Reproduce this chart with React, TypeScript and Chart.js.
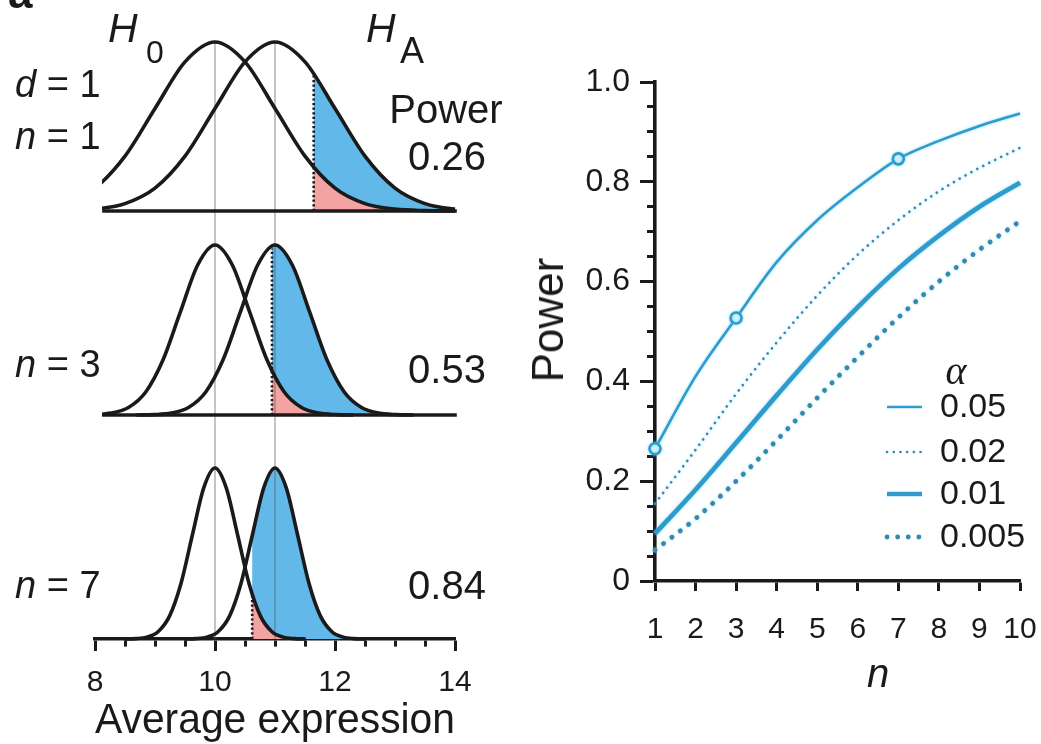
import React, { useEffect, useRef } from 'react';
import { Chart, registerables } from 'chart.js';

// ---------------- data ----------------
// relative heights of the bell curves, read at standardised offsets
const bellOffsets = [-4, -3.5, -3, -2.5, -2, -1.5, -1, -0.5, 0, 0.5, 1, 1.5, 2, 2.5, 3, 3.5, 4];
const bellHeights = [0.0003, 0.0022, 0.0111, 0.0439, 0.1353, 0.3247, 0.6065, 0.8825, 1, 0.8825, 0.6065, 0.3247, 0.1353, 0.0439, 0.0111, 0.0022, 0.0003];
const nullMean = 10;
const altMean = 11;
const guideValues = [10, 11];
const panelSampleSizes = [1, 3, 7];
const panelSpreads = [1, 0.577, 0.378];
const panelCriticalValues = [11.645, 10.95, 10.62];
const panelCriticalTops = [0.81, 0.98, 0.26];
const panelPowerLabels = ['0.26', '0.53', '0.84'];
const baselineRange = [8.12, 14.03];
const expressionTicks = [8, 10, 12, 14];

const sampleSizes = [1, 2, 3, 4, 5, 6, 7, 8, 9, 10];
const alphaLabels = ['0.05', '0.02', '0.01', '0.005'];
const power005 = [0.265, 0.41, 0.527, 0.639, 0.723, 0.789, 0.846, 0.882, 0.912, 0.937];
const power002 = [0.155, 0.263, 0.375, 0.478, 0.572, 0.654, 0.723, 0.781, 0.828, 0.868];
const power001 = [0.095, 0.183, 0.277, 0.372, 0.464, 0.549, 0.626, 0.692, 0.75, 0.798];
const power0005 = [0.062, 0.125, 0.2, 0.282, 0.367, 0.449, 0.528, 0.6, 0.664, 0.721];
const markedSampleSizes = [1, 3, 7];
const powerTicks = [0, 0.2, 0.4, 0.6, 0.8, 1.0];

// ---------------- styles ----------------
const FONT = "'Liberation Sans', Arial, Helvetica, sans-serif";
const SERIF = "'Liberation Serif', 'DejaVu Serif', serif";
const INK = '#1a1a1a';
const CYAN = '#2e9bcd';
const CYAN_DOT = '#3688ad';
const BLUE_FILL = '#62b8e8';
const PINK_FILL = '#f3a3a2';
const GUIDE = 'rgba(90,90,90,0.45)';

const PANEL_LAYOUT = [
  { top: 0, height: 228, areaTop: 20, areaBottom: 222, baseline: 211, peak: 42, guideFrom: 42, axis: false },
  { top: 228, height: 212, areaTop: 232, areaBottom: 428, baseline: 415, peak: 245, guideFrom: 228, axis: false },
  { top: 440, height: 310, areaTop: 448, areaBottom: 639, baseline: 639, peak: 468, guideFrom: 440, axis: true },
];

const LEGEND_ROWS = [407, 452, 494, 537];

// clip the tail fills to the right of the critical value (runs before the filler)
const tailClipPlugin = {
  id: 'tailClip',
  beforeDatasetDraw(chart: any, args: any) {
    const ds = chart.data.datasets[args.index];
    if (ds.tailFrom === undefined) return;
    const { ctx, chartArea } = chart;
    const x0 = chart.scales.x.getPixelForValue(ds.tailFrom);
    ctx.save();
    ctx.beginPath();
    ctx.rect(x0, chartArea.top - 5, chartArea.right - x0 + 5, chartArea.bottom - chartArea.top + 10);
    ctx.clip();
  },
  afterDatasetDraw(chart: any, args: any) {
    const ds = chart.data.datasets[args.index];
    if (ds.tailFrom === undefined) return;
    chart.ctx.restore();
  },
};
Chart.register(tailClipPlugin);
Chart.register(...registerables);

const isMajorPower = (v: number) => Math.abs(v * 5 - Math.round(v * 5)) < 1e-6;
const isMajorExpr = (v: number) => expressionTicks.some((t) => Math.abs(t - v) < 1e-6);

function DistributionPanel({ index }: { index: number }) {
  const ref = useRef<HTMLCanvasElement | null>(null);
  const L = PANEL_LAYOUT[index];
  useEffect(() => {
    const canvas = ref.current;
    if (!canvas) return;
    const unit = L.baseline - L.peak;
    const yMax = (L.baseline - L.areaTop) / unit;
    const yMin = L.axis ? 0 : (L.baseline - L.areaBottom) / unit;
    const sd = panelSpreads[index];
    const crit = panelCriticalValues[index];
    const h0 = bellOffsets.map((z, k) => ({ x: nullMean + z * sd, y: bellHeights[k] }));
    const hA = bellOffsets.map((z, k) => ({ x: altMean + z * sd, y: bellHeights[k] }));
    const curveClip = L.axis ? { left: 2, right: 3, top: 4, bottom: 4 } : { left: -7, right: 3, top: 4, bottom: 4 };
    const bottomLocal = L.axis ? L.baseline - L.top : L.height;
    const guideTop = L.guideFrom - L.top;

    const guidesPlugin = {
      id: 'guides',
      afterDatasetDraw(chart: any, args: any) {
        const ds = chart.data.datasets[args.index];
        if (ds.role !== 'alphaTail') return;
        const ctx = chart.ctx;
        ctx.save();
        ctx.strokeStyle = GUIDE;
        ctx.lineWidth = 1.6;
        guideValues.forEach((v) => {
          const x = chart.scales.x.getPixelForValue(v);
          ctx.beginPath();
          ctx.moveTo(x, guideTop);
          ctx.lineTo(x, bottomLocal);
          ctx.stroke();
        });
        ctx.restore();
      },
    };

    const curveStyle = {
      borderColor: INK,
      borderWidth: 3.6,
      pointRadius: 0,
      cubicInterpolationMode: 'monotone',
      borderJoinStyle: 'round',
      fill: false,
      clip: curveClip,
    };

    const datasets: any[] = [
      { role: 'powerTail', tailFrom: crit, data: hA, fill: 'origin', backgroundColor: BLUE_FILL, borderColor: 'transparent', borderWidth: 0, pointRadius: 0, cubicInterpolationMode: 'monotone', order: 6 },
      { role: 'alphaTail', tailFrom: crit, data: h0, fill: 'origin', backgroundColor: PINK_FILL, borderColor: 'transparent', borderWidth: 0, pointRadius: 0, cubicInterpolationMode: 'monotone', order: 5 },
      { data: [{ x: crit, y: 0 }, { x: crit, y: panelCriticalTops[index] }], borderColor: INK, borderWidth: 2.6, borderDash: [2.2, 2.4], pointRadius: 0, fill: false, order: 4 },
      { ...curveStyle, data: h0, order: 2 },
      { ...curveStyle, data: hA, order: 1 },
    ];
    if (!L.axis) {
      datasets.push({ data: baselineRange.map((x) => ({ x, y: 0 })), borderColor: INK, borderWidth: 3.6, pointRadius: 0, fill: false, clip: false, order: 3 });
    }

    const xScale: any = L.axis
      ? {
          type: 'linear',
          min: 8,
          max: 14,
          display: true,
          afterFit: (s: any) => {
            s.height = L.top + L.height - L.baseline;
          },
          border: { display: true, color: INK, width: 3.6 },
          grid: {
            display: true,
            drawOnChartArea: false,
            drawTicks: true,
            tickLength: 12,
            tickWidth: 3,
            tickColor: INK,
            tickBorderDash: (c: any) => (c.tick && isMajorExpr(c.tick.value) ? [] : [6, 100]),
          },
          ticks: {
            stepSize: 0.5,
            autoSkip: false,
            maxRotation: 0,
            padding: 14,
            color: INK,
            font: { family: FONT, size: 30 },
            callback: (v: number) => (isMajorExpr(v) ? String(Math.round(v)) : ''),
          },
          title: { display: true, text: 'Average expression', color: INK, font: { family: FONT, size: 42 }, padding: { top: 0, bottom: 3 } },
        }
      : { type: 'linear', min: 8, max: 14, display: false };

    const chart = new Chart(canvas, {
      type: 'line',
      data: { datasets },
      options: {
        responsive: false,
        animation: false,
        devicePixelRatio: 1,
        events: [],
        layout: {
          padding: {
            left: 95,
            right: 65,
            top: L.areaTop - L.top,
            bottom: L.axis ? 0 : L.top + L.height - L.areaBottom,
          },
        },
        plugins: { legend: { display: false }, tooltip: { enabled: false } },
        scales: {
          x: xScale,
          y: { type: 'linear', min: yMin, max: yMax, display: false },
        },
      } as any,
      plugins: [guidesPlugin],
    });
    return () => chart.destroy();
  }, []);
  return (
    <canvas
      ref={ref}
      width={520}
      height={L.height}
      style={{ position: 'absolute', left: 0, top: L.top, width: 520, height: L.height, display: 'block' }}
    />
  );
}

const SERIES_STYLES = [
  { width: 2.6, dash: [] as number[], cap: 'butt', color: CYAN },
  { width: 2.6, dash: [0.1, 6.6], cap: 'round', color: CYAN_DOT },
  { width: 4.6, dash: [] as number[], cap: 'butt', color: CYAN },
  { width: 4.8, dash: [0.1, 10.5], cap: 'round', color: CYAN_DOT },
];

function PowerChart() {
  const ref = useRef<HTMLCanvasElement | null>(null);
  useEffect(() => {
    const canvas = ref.current;
    if (!canvas) return;
    const series = [power005, power002, power001, power0005];
    const datasets: any[] = series.map((vals, i) => ({
      label: alphaLabels[i],
      data: sampleSizes.map((n, k) => ({ x: n, y: vals[k] })),
      borderColor: SERIES_STYLES[i].color,
      borderWidth: SERIES_STYLES[i].width,
      borderDash: SERIES_STYLES[i].dash,
      borderCapStyle: SERIES_STYLES[i].cap,
      cubicInterpolationMode: 'monotone',
      fill: false,
      pointRadius: i === 0 ? (c: any) => (markedSampleSizes.includes(sampleSizes[c.dataIndex]) ? 5.5 : 0) : 0,
      pointBorderWidth: 2.6,
      pointBorderColor: CYAN,
      pointBackgroundColor: '#d2f3fc',
      clip: false,
      order: i,
    }));

    const glowPlugin = {
      id: 'glow',
      beforeDatasetsDraw(chart: any) {
        const ctx = chart.ctx;
        ctx.save();
        ctx.shadowColor = 'rgba(110,205,240,0.75)';
        ctx.shadowBlur = 3;
      },
      afterDatasetsDraw(chart: any) {
        chart.ctx.restore();
      },
    };

    const legendPlugin = {
      id: 'alphaLegend',
      afterDraw(chart: any) {
        const ctx = chart.ctx;
        ctx.save();
        ctx.fillStyle = INK;
        ctx.textAlign = 'center';
        ctx.textBaseline = 'alphabetic';
        ctx.font = `italic 40px ${SERIF}`;
        ctx.fillText('α', 436, 384);
        ctx.textAlign = 'left';
        ctx.textBaseline = 'middle';
        ctx.font = `34px ${FONT}`;
        alphaLabels.forEach((label, i) => {
          const ds = chart.data.datasets[i];
          const y = LEGEND_ROWS[i];
          ctx.save();
          ctx.strokeStyle = ds.borderColor;
          ctx.lineWidth = ds.borderWidth;
          ctx.setLineDash(ds.borderDash);
          ctx.lineCap = ds.borderCapStyle;
          ctx.beginPath();
          ctx.moveTo(367, y);
          ctx.lineTo(402, y);
          ctx.stroke();
          ctx.restore();
          ctx.fillText(label, 420, y + 1);
        });
        ctx.restore();
      },
    };

    const chart = new Chart(canvas, {
      type: 'line',
      data: { datasets },
      options: {
        responsive: false,
        animation: false,
        devicePixelRatio: 1,
        events: [],
        layout: { padding: { left: 0, right: 21, top: 82, bottom: 63 } },
        plugins: { legend: { display: false }, tooltip: { enabled: false } },
        scales: {
          x: {
            type: 'linear',
            min: 1,
            max: 10,
            afterFit: (s: any) => {
              s.height = 100;
            },
            border: { display: true, color: INK, width: 3.6 },
            grid: { display: true, drawOnChartArea: false, drawTicks: true, tickLength: 10, tickWidth: 3, tickColor: INK },
            ticks: {
              stepSize: 1,
              autoSkip: false,
              maxRotation: 0,
              padding: 2,
              color: INK,
              font: { family: FONT, size: 30, lineHeight: 2.4667 },
            },
          },
          y: {
            type: 'linear',
            min: 0,
            max: 1,
            afterFit: (s: any) => {
              s.width = 135;
            },
            border: { display: true, color: INK, width: 3.6 },
            grid: {
              display: true,
              drawOnChartArea: false,
              drawTicks: true,
              tickLength: 15,
              tickWidth: 3,
              tickColor: INK,
              tickBorderDash: (c: any) => (c.tick && isMajorPower(c.tick.value) ? [] : [0, 7, 10, 100]),
            },
            ticks: {
              stepSize: 0.05,
              autoSkip: false,
              padding: 10,
              color: INK,
              font: { family: FONT, size: 32 },
              callback: (v: number) => {
                const t = powerTicks.find((p) => Math.abs(p - v) < 1e-6);
                if (t === undefined) return '';
                return t === 0 ? '0' : t.toFixed(1);
              },
            },
            title: { display: false },
          },
        },
      } as any,
      plugins: [glowPlugin, legendPlugin],
    });
    return () => chart.destroy();
  }, []);
  return (
    <canvas
      ref={ref}
      width={521}
      height={744}
      style={{ position: 'absolute', left: 520, top: 0, width: 521, height: 744, display: 'block' }}
    />
  );
}

function Txt(props: {
  x: number;
  baseline: number;
  size: number;
  children: React.ReactNode;
  align?: 'left' | 'center';
  italic?: boolean;
  weight?: number;
}) {
  const { x, baseline, size, children, align = 'left', italic = false, weight = 400 } = props;
  const style: React.CSSProperties = {
    position: 'absolute',
    top: baseline - 0.8465 * size,
    fontFamily: FONT,
    fontSize: size,
    lineHeight: 1,
    whiteSpace: 'nowrap',
    fontStyle: italic ? 'italic' : 'normal',
    fontWeight: weight,
    color: INK,
  };
  if (align === 'center') {
    style.left = x - 150;
    style.width = 300;
    style.textAlign = 'center';
  } else {
    style.left = x;
  }
  return <div style={style}>{children}</div>;
}

const PANEL_TEXT = [
  { sampleBaseline: 149, powerBaseline: 170 },
  { sampleBaseline: 377, powerBaseline: 383 },
  { sampleBaseline: 598, powerBaseline: 599 },
];

export default function App() {
  return (
    <div style={{ position: 'absolute', left: 0, top: 0, width: 1041, height: 744, overflow: 'hidden', background: '#fff' }}>
      {[0, 1, 2].map((i) => (
        <DistributionPanel key={i} index={i} />
      ))}
      <PowerChart />
      <Txt x={8} baseline={8} size={44} weight={700}>a</Txt>
      <Txt x={108} baseline={43} size={41} italic>H</Txt>
      <Txt x={146} baseline={63} size={32}>0</Txt>
      <Txt x={366} baseline={43} size={41} italic>H</Txt>
      <Txt x={400} baseline={63} size={36}>A</Txt>
      <Txt x={15} baseline={97} size={38}>
        <i>d</i> = 1
      </Txt>
      <Txt x={446} baseline={123} size={40} align="center">Power</Txt>
      {PANEL_TEXT.map((t, i) => (
        <React.Fragment key={i}>
          <Txt x={15} baseline={t.sampleBaseline} size={38}>
            <i>n</i> = {panelSampleSizes[i]}
          </Txt>
          <Txt x={447} baseline={t.powerBaseline} size={40} align="center">
            {panelPowerLabels[i]}
          </Txt>
        </React.Fragment>
      ))}
      <Txt x={867} baseline={687} size={40} italic>n</Txt>
      <div
        style={{
          position: 'absolute',
          left: 548,
          top: 320,
          transform: 'translate(-50%, -50%) rotate(-90deg)',
          fontFamily: FONT,
          fontSize: 44,
          lineHeight: 1,
          whiteSpace: 'nowrap',
          color: INK,
        }}
      >
        Power
      </div>
    </div>
  );
}
